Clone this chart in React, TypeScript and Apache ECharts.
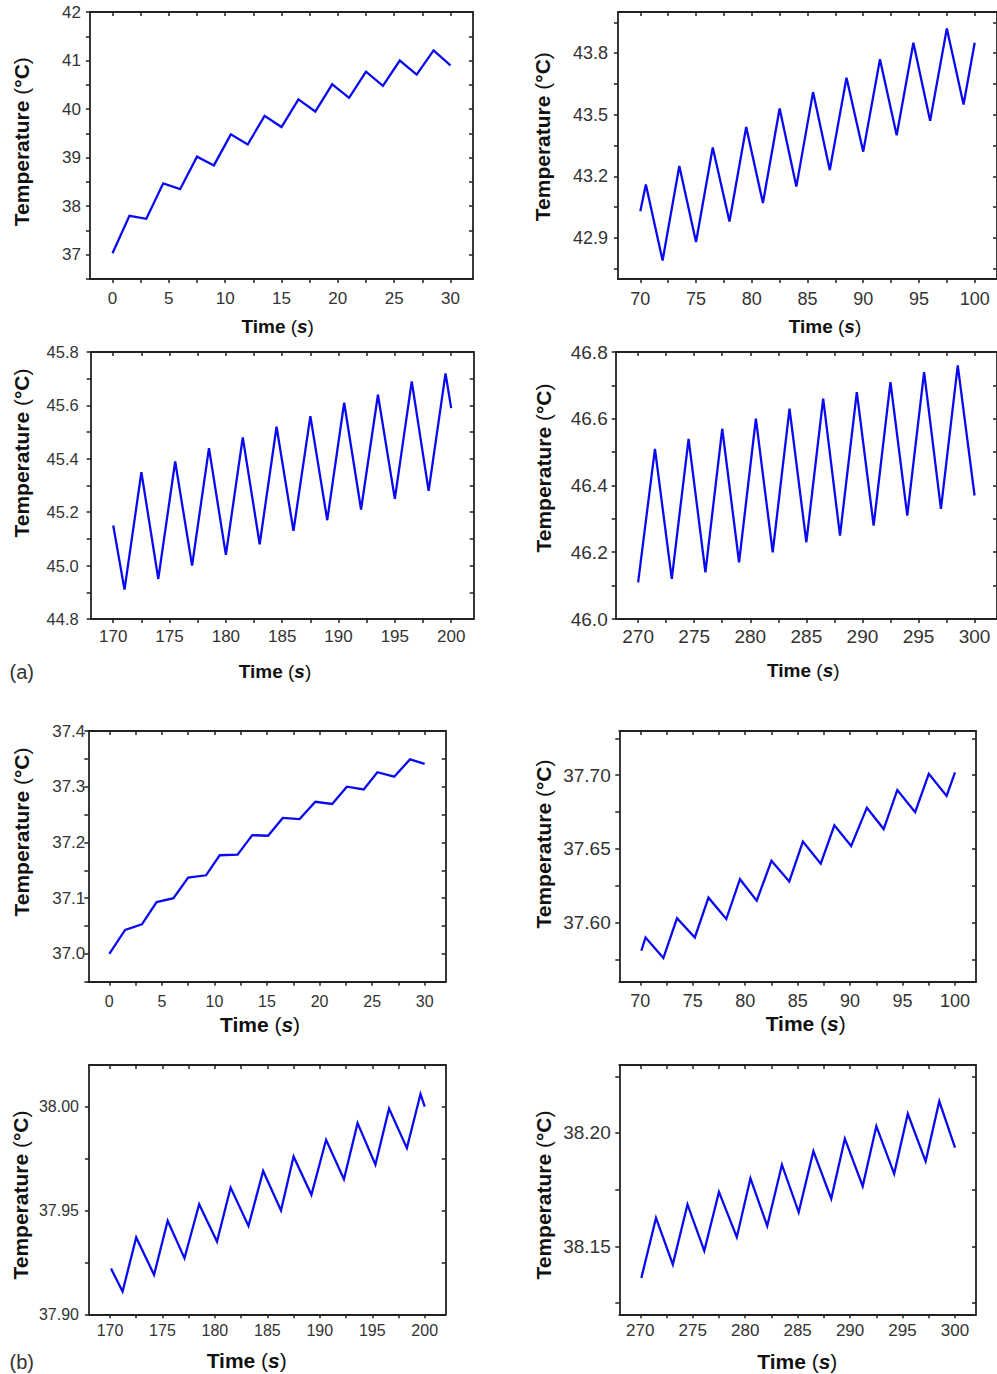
import React, { useEffect, useRef } from "react";
import * as echarts from "echarts";

// ---------- data ----------
const p1Time = [0, 1.5, 3, 4.5, 6, 7.5, 9, 10.5, 12, 13.5, 15, 16.5, 18, 19.5, 21, 22.5, 24, 25.5, 27, 28.5, 30];
const p1Temp = [37.03, 37.8, 37.74, 38.47, 38.35, 39.02, 38.84, 39.48, 39.27, 39.86, 39.63, 40.2, 39.95, 40.51, 40.23, 40.77, 40.48, 41.0, 40.71, 41.21, 40.9];

const p2Time = [70, 70.5, 72, 73.5, 75, 76.5, 78, 79.5, 81, 82.5, 84, 85.5, 87, 88.5, 90, 91.5, 93, 94.5, 96, 97.5, 99, 100];
const p2Temp = [43.03, 43.16, 42.79, 43.25, 42.88, 43.34, 42.98, 43.44, 43.07, 43.53, 43.15, 43.61, 43.23, 43.68, 43.32, 43.77, 43.4, 43.85, 43.47, 43.92, 43.55, 43.85];

const p3Time = [170, 171, 172.5, 174, 175.5, 177, 178.5, 180, 181.5, 183, 184.5, 186, 187.5, 189, 190.5, 192, 193.5, 195, 196.5, 198, 199.5, 200];
const p3Temp = [45.15, 44.91, 45.35, 44.95, 45.39, 45.0, 45.44, 45.04, 45.48, 45.08, 45.52, 45.13, 45.56, 45.17, 45.61, 45.21, 45.64, 45.25, 45.69, 45.28, 45.72, 45.59];

const p4Time = [270, 271.5, 273, 274.5, 276, 277.5, 279, 280.5, 282, 283.5, 285, 286.5, 288, 289.5, 291, 292.5, 294, 295.5, 297, 298.5, 300];
const p4Temp = [46.11, 46.51, 46.12, 46.54, 46.14, 46.57, 46.17, 46.6, 46.2, 46.63, 46.23, 46.66, 46.25, 46.68, 46.28, 46.71, 46.31, 46.74, 46.33, 46.76, 46.37];

const p5Time = [0, 1.5, 3.1, 4.5, 6.1, 7.5, 9.2, 10.5, 12.2, 13.6, 15.1, 16.5, 18.1, 19.6, 21.2, 22.6, 24.2, 25.5, 27.1, 28.6, 30];
const p5Temp = [37.0, 37.043, 37.053, 37.093, 37.1, 37.137, 37.141, 37.177, 37.178, 37.213, 37.212, 37.244, 37.242, 37.273, 37.269, 37.3, 37.295, 37.326, 37.318, 37.349, 37.341];

const p6Time = [70.1, 70.5, 72.2, 73.5, 75.2, 76.5, 78.2, 79.5, 81.1, 82.5, 84.2, 85.5, 87.2, 88.5, 90.1, 91.6, 93.2, 94.5, 96.2, 97.5, 99.2, 100];
const p6Temp = [37.581, 37.59, 37.576, 37.603, 37.59, 37.617, 37.6025, 37.6295, 37.615, 37.642, 37.628, 37.655, 37.64, 37.666, 37.652, 37.678, 37.6635, 37.69, 37.675, 37.701, 37.686, 37.702];

const p7Time = [170.1, 171.2, 172.5, 174.2, 175.5, 177.1, 178.5, 180.2, 181.5, 183.2, 184.6, 186.3, 187.5, 189.2, 190.6, 192.3, 193.6, 195.3, 196.6, 198.3, 199.6, 200];
const p7Temp = [37.922, 37.911, 37.937, 37.919, 37.945, 37.927, 37.953, 37.935, 37.961, 37.9425, 37.969, 37.95, 37.976, 37.9575, 37.984, 37.965, 37.992, 37.972, 37.999, 37.98, 38.006, 38.0];

const p8Time = [270.1, 271.5, 273.1, 274.5, 276.1, 277.5, 279.2, 280.5, 282.1, 283.5, 285.1, 286.5, 288.2, 289.5, 291.2, 292.5, 294.2, 295.5, 297.2, 298.5, 300];
const p8Temp = [38.136, 38.1625, 38.142, 38.1685, 38.148, 38.174, 38.154, 38.18, 38.159, 38.186, 38.165, 38.192, 38.171, 38.1975, 38.1765, 38.203, 38.182, 38.2085, 38.1875, 38.214, 38.1935];

// tick labels and tick marks
const xLabels0 = [0, 5, 10, 15, 20, 25, 30];
const xTicks0 = [0, 2.5, 5, 7.5, 10, 12.5, 15, 17.5, 20, 22.5, 25, 27.5, 30];
const xLabels70 = [70, 75, 80, 85, 90, 95, 100];
const xTicks70 = [70, 72.5, 75, 77.5, 80, 82.5, 85, 87.5, 90, 92.5, 95, 97.5, 100];
const xLabels170 = [170, 175, 180, 185, 190, 195, 200];
const xTicks170 = [170, 172.5, 175, 177.5, 180, 182.5, 185, 187.5, 190, 192.5, 195, 197.5, 200];
const xLabels270 = [270, 275, 280, 285, 290, 295, 300];
const xTicks270 = [270, 272.5, 275, 277.5, 280, 282.5, 285, 287.5, 290, 292.5, 295, 297.5, 300];

const y1Labels = [37, 38, 39, 40, 41, 42];
const y1Ticks = [36.5, 37, 37.5, 38, 38.5, 39, 39.5, 40, 40.5, 41, 41.5, 42];
const y2Labels = [42.9, 43.2, 43.5, 43.8];
const y2Ticks = [42.75, 42.9, 43.05, 43.2, 43.35, 43.5, 43.65, 43.8, 43.95];
const y3Labels = [44.8, 45.0, 45.2, 45.4, 45.6, 45.8];
const y3Ticks = [44.8, 44.9, 45.0, 45.1, 45.2, 45.3, 45.4, 45.5, 45.6, 45.7, 45.8];
const y4Labels = [46.0, 46.2, 46.4, 46.6, 46.8];
const y4Ticks = [46.0, 46.1, 46.2, 46.3, 46.4, 46.5, 46.6, 46.7, 46.8];
const y5Labels = [37.0, 37.1, 37.2, 37.3, 37.4];
const y5Ticks = [36.95, 37.0, 37.05, 37.1, 37.15, 37.2, 37.25, 37.3, 37.35, 37.4];
const y6Labels = [37.6, 37.65, 37.7];
const y6Ticks = [37.575, 37.6, 37.625, 37.65, 37.675, 37.7, 37.725];
const y7Labels = [37.9, 37.95, 38.0];
const y7Ticks = [37.9, 37.925, 37.95, 37.975, 38.0];
const y8Labels = [38.15, 38.2];
const y8Ticks = [38.125, 38.15, 38.175, 38.2, 38.225];

// ---------- layout ----------
const panels = [
  { rect: [90, 12, 383, 267], xr: [-2, 32], xl: xLabels0, xt: xTicks0, yr: [36.5, 42], yl: y1Labels, yt: y1Ticks, dec: 0, t: p1Time, v: p1Temp, fx: 17, fy: 17, mx: 11, my: 9, xT: [277.7, 326, 19], yT: [21.7, 141.7] },
  { rect: [618, 12, 381, 267], xr: [68, 102], xl: xLabels70, xt: xTicks70, yr: [42.7, 44.0], yl: y2Labels, yt: y2Ticks, dec: 1, t: p2Time, v: p2Temp, fx: 18, fy: 18, mx: 11, my: 10, xT: [825, 326, 19], yT: [542.7, 136.7] },
  { rect: [90.7, 352, 383, 267], xr: [168, 202], xl: xLabels170, xt: xTicks170, yr: [44.8, 45.8], yl: y3Labels, yt: y3Ticks, dec: 1, t: p3Time, v: p3Temp, fx: 17, fy: 16.5, mx: 9, my: 12, xT: [275, 671, 19], yT: [21.7, 453] },
  { rect: [615.7, 352, 383, 267], xr: [268, 302], xl: xLabels270, xt: xTicks270, yr: [46.0, 46.8], yl: y4Labels, yt: y4Ticks, dec: 1, t: p4Time, v: p4Temp, fx: 19, fy: 19, mx: 8, my: 8, xT: [803.3, 670, 19], yT: [543.3, 468] },
  { rect: [88.3, 731, 357.4, 250.7], xr: [-2, 32], xl: xLabels0, xt: xTicks0, yr: [36.95, 37.4], yl: y5Labels, yt: y5Ticks, dec: 1, t: p5Time, v: p5Temp, fx: 16, fy: 17, mx: 12, my: 3, xT: [260, 1024, 21], yT: [21, 832] },
  { rect: [619.3, 731, 356.7, 250.7], xr: [68, 102], xl: xLabels70, xt: xTicks70, yr: [37.56, 37.73], yl: y6Labels, yt: y6Ticks, dec: 2, t: p6Time, v: p6Temp, fx: 18, fy: 19, mx: 10, my: 8.6, xT: [805.7, 1023, 21], yT: [543.3, 844] },
  { rect: [89, 1065, 356.7, 249.3], xr: [168, 202], xl: xLabels170, xt: xTicks170, yr: [37.9, 38.02], yl: y7Labels, yt: y7Ticks, dec: 2, t: p7Time, v: p7Temp, fx: 16, fy: 16, mx: 8, my: 10, xT: [246.7, 1360, 21], yT: [20.7, 1195] },
  { rect: [619.3, 1065, 356.7, 249.3], xr: [268, 302], xl: xLabels270, xt: xTicks270, yr: [38.12, 38.23], yl: y8Labels, yt: y8Ticks, dec: 2, t: p8Time, v: p8Temp, fx: 17, fy: 19, mx: 8, my: 8.6, xT: [797.3, 1361, 21], yT: [543.3, 1195] },
];

const FONT = "'Liberation Sans', Arial, Helvetica, sans-serif";
const AXIS_COLOR = "#222";
const LABEL_COLOR = "#333";
const LINE_COLOR = "#0a0af0";

function buildOption() {
  const grid: any[] = [];
  const xAxis: any[] = [];
  const yAxis: any[] = [];
  const series: any[] = [];
  const graphic: any[] = [];

  panels.forEach((p, i) => {
    grid.push({ left: p.rect[0], top: p.rect[1], width: p.rect[2], height: p.rect[3] });
    const axisLine = { show: true, onZero: false, lineStyle: { color: AXIS_COLOR, width: 1.8 } };
    const tickStyle = { color: AXIS_COLOR, width: 1.5 };
    // bottom
    xAxis.push({
      type: "value", gridIndex: i, position: "bottom", min: p.xr[0], max: p.xr[1],
      axisLine, splitLine: { show: false },
      axisTick: { show: true, inside: false, length: 4, customValues: p.xt, lineStyle: tickStyle },
      axisLabel: { show: true, customValues: p.xl, margin: p.mx, fontSize: p.fx, color: LABEL_COLOR, fontFamily: FONT, formatter: (v: number) => String(v) },
    });
    // top (mirror)
    xAxis.push({
      type: "value", gridIndex: i, position: "top", min: p.xr[0], max: p.xr[1],
      axisLine, splitLine: { show: false },
      axisTick: { show: true, inside: true, length: 4, customValues: p.xt, lineStyle: tickStyle },
      axisLabel: { show: false },
    });
    // left
    yAxis.push({
      type: "value", gridIndex: i, position: "left", min: p.yr[0], max: p.yr[1],
      axisLine, splitLine: { show: false },
      axisTick: { show: true, inside: false, length: 4, customValues: p.yt, lineStyle: tickStyle },
      axisLabel: { show: true, customValues: p.yl, margin: p.my, fontSize: p.fy, color: LABEL_COLOR, fontFamily: FONT, formatter: (v: number) => v.toFixed(p.dec) },
    });
    // right (mirror)
    yAxis.push({
      type: "value", gridIndex: i, position: "right", min: p.yr[0], max: p.yr[1],
      axisLine, splitLine: { show: false },
      axisTick: { show: true, inside: true, length: 4, customValues: p.yt, lineStyle: tickStyle },
      axisLabel: { show: false },
    });
    series.push({
      type: "line", name: "Temperature " + (i + 1), xAxisIndex: 2 * i, yAxisIndex: 2 * i,
      data: p.t.map((t, k) => [t, p.v[k]]),
      showSymbol: false, symbol: "none", smooth: false, clip: true,
      lineStyle: { color: LINE_COLOR, width: 2.3, join: "miter" },
    });

    const fs = p.xT[2];
    graphic.push({
      type: "text", x: p.xT[0], y: p.xT[1],
      style: {
        text: "{b|Time} {n|(}{bi|s}{n|)}",
        align: "center", verticalAlign: "middle", textAlign: "center", textVerticalAlign: "middle",
        fontSize: fs, fontFamily: FONT, fill: "#111",
        rich: {
          b: { fontSize: fs, fontFamily: FONT, fontWeight: "bold", fill: "#111", color: "#111" },
          n: { fontSize: fs, fontFamily: FONT, fontWeight: "normal", fill: "#111", color: "#111" },
          bi: { fontSize: fs, fontFamily: FONT, fontWeight: "bold", fontStyle: "italic", fill: "#111", color: "#111" },
        },
      },
    });
    graphic.push({
      type: "text", x: p.yT[0], y: p.yT[1], rotation: Math.PI / 2,
      style: {
        text: "{b|Temperature} {n|(}{b|°C}{n|)}",
        align: "center", verticalAlign: "middle", textAlign: "center", textVerticalAlign: "middle",
        fontSize: 21, fontFamily: FONT, fill: "#111",
        rich: {
          b: { fontSize: 21, fontFamily: FONT, fontWeight: "bold", fill: "#111", color: "#111" },
          n: { fontSize: 21, fontFamily: FONT, fontWeight: "normal", fill: "#111", color: "#111" },
        },
      },
    });
  });

  graphic.push({
    type: "text", x: 21.7, y: 671.7,
    style: { text: "(a)", align: "center", verticalAlign: "middle", textAlign: "center", textVerticalAlign: "middle", fontSize: 20, fontFamily: FONT, fill: "#333" },
  });
  graphic.push({
    type: "text", x: 21.7, y: 1361.7,
    style: { text: "(b)", align: "center", verticalAlign: "middle", textAlign: "center", textVerticalAlign: "middle", fontSize: 20, fontFamily: FONT, fill: "#333" },
  });

  return { animation: false, backgroundColor: "#ffffff", grid, xAxis, yAxis, series, graphic };
}

export default function App() {
  const ref = useRef<HTMLDivElement>(null);
  useEffect(() => {
    if (!ref.current) return;
    const chart = echarts.init(ref.current, undefined, { renderer: "svg" });
    chart.setOption(buildOption() as any);
    return () => chart.dispose();
  }, []);
  return (
    <div
      ref={ref}
      style={{ position: "absolute", left: 0, top: 0, width: 997, height: 1374, background: "#fff" }}
    />
  );
}
